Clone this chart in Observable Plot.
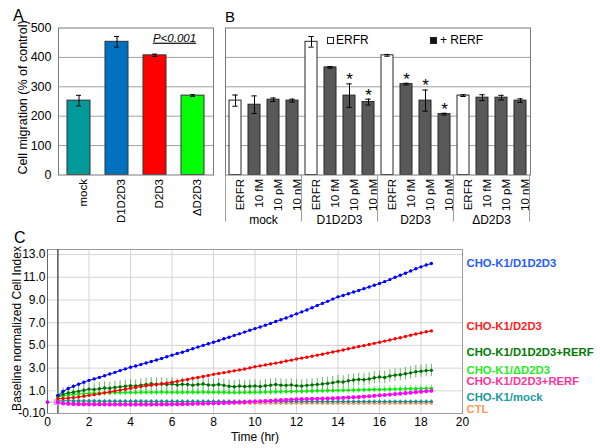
<!DOCTYPE html>
<html><head><meta charset="utf-8">
<script src="https://cdn.jsdelivr.net/npm/d3@7"></script>
<script src="https://cdn.jsdelivr.net/npm/@observablehq/plot@0.6"></script>
<style>
body{margin:0;background:#fff;}
#root{position:relative;width:600px;height:448px;overflow:hidden;font-family:"Liberation Sans",Arial,sans-serif;color:#000;}
.pane{position:absolute;}
.pane svg{overflow:visible;}
.letter{position:absolute;line-height:1;}
.leg{position:absolute;font-size:12px;line-height:12px;white-space:nowrap;}
.sq{position:absolute;width:5px;height:5px;border:1px solid #222;}
</style></head><body>
<div id="root">
  <div class="pane" id="pA" style="left:0;top:0"></div>
  <div class="pane" id="pB" style="left:215px;top:0"></div>
  <div class="pane" id="pC" style="left:0;top:230px"></div>
  <div class="letter" style="left:13px;top:8px;font-size:16px">A</div>
  <div class="letter" style="left:225px;top:9px;font-size:15px">B</div>
  <div class="letter" style="left:14px;top:230px;font-size:16px">C</div>
  <div class="sq" style="left:327px;top:37px;background:#fff"></div>
  <div class="leg" style="left:336px;top:34px">ERFR</div>
  <div class="sq" style="left:430px;top:37px;background:#111"></div>
  <div class="leg" style="left:440px;top:34px">+ RERF</div>
</div>
<script>
// ---------- Panel A data ----------
const groupsA = ["mock", "D1D2D3", "D2D3", "ΔD2D3"];
const valuesA = [253, 453, 407, 270];
const errorsA = [18, 18, 4, 3];
const colorsA = ["#009a9a", "#0070c0", "#ff0000", "#00ff00"];
const ticksA = [0, 100, 200, 300, 400, 500];

// ---------- Panel B data ----------
const groupsB = ["mock", "D1D2D3", "D2D3", "ΔD2D3"];
const treatmentsB = ["ERFR", "10 fM", "10 pM", "10 nM"];
const valuesB = [[253, 239, 256, 253], [453, 366, 270, 248], [407, 309, 253, 207], [270, 263, 263, 253]];
const errorsB = [[19, 30, 6, 5], [18, 3, 40, 10], [3, 3, 36, 3], [3, 10, 8, 6]];
const signifB = [[0, 0, 0, 0], [0, 0, 1, 1], [0, 1, 1, 1], [0, 0, 0, 0]];

// ---------- Panel C data ----------
const timeC = [0.5,0.75,1,1.25,1.5,1.75,2,2.25, 2.5,2.75,3,3.25,3.5,3.75,4,4.25, 4.5,4.75,5,5.25,5.5,5.75,6,6.25,
  6.5,6.75,7,7.25,7.5,7.75,8,8.25, 8.5,8.75,9,9.25,9.5,9.75,10,10.25, 10.5,10.75,11,11.25,11.5,11.75,12,12.25,
  12.5,12.75,13,13.25,13.5,13.75,14,14.25, 14.5,14.75,15,15.25,15.5,15.75,16,16.25, 16.5,16.75,17,17.25,17.5,17.75,18,18.25, 18.5];
const d1d2d3C = [0.60,0.95,1.20,1.40,1.58,1.75,1.92,2.05, 2.18,2.32,2.48,2.62,2.78,2.93,3.08,3.18, 3.32,3.45,3.58,3.72,3.85,4.00,4.14,4.28,
  4.40,4.55,4.70,4.85,5.00,5.14,5.28,5.42, 5.58,5.72,5.88,6.02,6.17,6.33,6.48,6.62, 6.78,6.94,7.10,7.26,7.42,7.60,7.78,7.95,
  8.12,8.32,8.52,8.70,8.88,9.08,9.28,9.40, 9.55,9.70,9.84,10.00,10.14,10.30,10.45,10.62, 10.80,11.00,11.18,11.36,11.55,11.75,11.92,12.08, 12.22];
const d2d3C = [0.30,0.33,0.36,0.40,0.45,0.52,0.60,0.66, 0.74,0.82,0.90,0.98,1.06,1.14,1.22,1.30, 1.37,1.44,1.50,1.56,1.62,1.68,1.75,1.83,
  1.92,2.00,2.10,2.18,2.26,2.35,2.45,2.52, 2.60,2.68,2.76,2.84,2.92,3.02,3.12,3.20, 3.28,3.36,3.44,3.52,3.62,3.70,3.80,3.88,
  3.96,4.05,4.14,4.22,4.32,4.42,4.50,4.60, 4.70,4.80,4.90,4.98,5.08,5.18,5.28,5.38, 5.48,5.58,5.68,5.78,5.90,6.00,6.10,6.20, 6.28];
const d1d2d3RerfC = [0.55,0.70,0.80,0.88,0.95,1.05,1.15,1.12, 1.18,1.25,1.22,1.30,1.35,1.40,1.45,1.42, 1.50,1.55,1.62,1.58,1.60,1.55,1.60,1.52,
  1.58,1.55,1.50,1.56,1.60,1.52,1.50,1.55, 1.48,1.40,1.36,1.42,1.38,1.40,1.42,1.38, 1.45,1.50,1.55,1.50,1.48,1.52,1.45,1.42,
  1.48,1.52,1.55,1.60,1.65,1.72,1.80,1.78, 1.88,1.95,2.00,1.98,2.05,2.15,2.22,2.18, 2.30,2.38,2.42,2.50,2.58,2.68,2.72,2.78, 2.80];
const dD2d3C = [0.45,0.55,0.62,0.68,0.72,0.75,0.78,0.80, 0.80,0.82,0.82,0.84,0.84,0.85,0.86,0.86, 0.87,0.88,0.88,0.88,0.89,0.88,0.88,0.87,
  0.88,0.88,0.88,0.88,0.89,0.88,0.88,0.88, 0.87,0.86,0.86,0.86,0.87,0.87,0.88,0.88, 0.89,0.90,0.91,0.92,0.93,0.94,0.95,0.96,
  0.97,0.98,1.00,1.01,1.02,1.03,1.04,1.05, 1.06,1.07,1.08,1.09,1.10,1.11,1.12,1.13, 1.14,1.15,1.16,1.17,1.18,1.19,1.20,1.21, 1.22];
const d2d3RerfC = [0.00,-0.12,-0.15,-0.17,-0.18,-0.19,-0.19,-0.20, -0.20,-0.20,-0.21,-0.21,-0.21,-0.21,-0.21,-0.21, -0.21,-0.21,-0.21,-0.20,-0.20,-0.20,-0.19,-0.19,
  -0.18,-0.17,-0.15,-0.14,-0.13,-0.12,-0.10,-0.09, -0.07,-0.05,-0.03,-0.01,0.01,0.03,0.05,0.07, 0.10,0.12,0.15,0.17,0.20,0.22,0.25,0.26,
  0.27,0.28,0.30,0.31,0.32,0.34,0.36,0.38, 0.41,0.43,0.45,0.49,0.52,0.56,0.60,0.63, 0.67,0.71,0.75,0.79,0.83,0.88,0.92,0.96, 1.00];
const mockC = [0.10,0.12,0.12,0.11,0.11,0.10,0.10,0.10, 0.09,0.09,0.09,0.09,0.08,0.08,0.08,0.08, 0.08,0.07,0.07,0.07,0.07,0.07,0.07,0.06,
  0.06,0.06,0.06,0.06,0.06,0.06,0.06,0.06, 0.06,0.06,0.06,0.05,0.05,0.05,0.05,0.05, 0.05,0.05,0.05,0.05,0.05,0.05,0.05,0.05,
  0.05,0.05,0.05,0.05,0.05,0.05,0.05,0.05, 0.05,0.05,0.05,0.05,0.05,0.05,0.05,0.05, 0.05,0.05,0.05,0.05,0.05,0.05,0.05,0.05, 0.05];
const ctlC = [-0.08,-0.09,-0.09,-0.10,-0.10,-0.10,-0.10,-0.10, -0.10,-0.10,-0.10,-0.10,-0.10,-0.10,-0.10,-0.10, -0.10,-0.10,-0.10,-0.10,-0.10,-0.10,-0.10,-0.10,
  -0.10,-0.10,-0.10,-0.10,-0.10,-0.10,-0.10,-0.10, -0.10,-0.10,-0.10,-0.10,-0.10,-0.10,-0.10,-0.10, -0.10,-0.10,-0.10,-0.10,-0.10,-0.10,-0.10,-0.10,
  -0.10,-0.10,-0.10,-0.10,-0.10,-0.10,-0.10,-0.10, -0.10,-0.10,-0.10,-0.10,-0.10,-0.10,-0.10,-0.10, -0.10,-0.10,-0.10,-0.10,-0.10,-0.10,-0.10,-0.10, -0.10];
const seriesNamesC = ["CHO-K1/D1D2D3", "CHO-K1/D2D3", "CHO-K1/D1D2D3+RERF", "CHO-K1/ΔD2D3", "CHO-K1/D2D3+RERF", "CHO-K1/mock", "CTL"];
const seriesValuesC = [d1d2d3C, d2d3C, d1d2d3RerfC, dD2d3C, d2d3RerfC, mockC, ctlC];
const errorsC = [0.08, 0.06, 0.55, 0.30, 0.10, 0.15, 0.12];
const baselineT = [0, 0.45];
const baselineV = [0, 0];
const ticksYC = [-1, 1, 3, 5, 7, 9, 11, 13];
const tickLabelsYC = ["-0.10", "1.0", "3.0", "5.0", "7.0", "9.0", "11.0", "13.0"];
const ticksXC = [0, 2, 4, 6, 8, 10, 12, 14, 16, 18, 20];

// styles
const FONT = '"Liberation Sans", Arial, sans-serif';
const pointColorsC = ["#0000ff", "#ff0000", "#007000", "#00ee00", "#ff00ff", "#1a8c8c", "#ff9966"];
const errColorsC = ["#4040ff", "#ff5050", "#5aaa5a", "#55ff55", "#ff66ff", "#308080", "#555555"];
const labelColorsC = ["#1f5cff", "#ff1a1a", "#007a00", "#22ee22", "#ff3399", "#1a9a9a", "#ff9955"];
const labelYC = [12.24, 6.67, 4.37, 2.78, 1.81, 0.42, -0.6];
const drawOrderC = [6, 5, 3, 4, 2, 1, 0];

// ---------- Panel A ----------
const dataA = groupsA.map((g, i) => ({g, v: valuesA[i], e: errorsA[i], c: colorsA[i]}));
const plotA = Plot.plot({
  width: 220, height: 225, marginLeft: 58, marginRight: 7, marginTop: 27.5, marginBottom: 50.5,
  style: {fontFamily: FONT, background: "transparent", overflow: "visible", color: "#000"},
  x: {domain: groupsA, paddingInner: 0.385, paddingOuter: 0.19},
  y: {domain: [0, 500]},
  marks: [
    Plot.gridY([100, 200, 300, 400], {stroke: "#a0a0a0", strokeOpacity: 1}),
    Plot.barY(dataA, {x: "g", y: "v", fill: "c", stroke: "#333", strokeWidth: 1}),
    Plot.ruleX(dataA, {x: "g", y1: d => d.v - d.e, y2: d => d.v + d.e, stroke: "#000"}),
    Plot.tickY(dataA, {x: "g", y: d => d.v + d.e, insetLeft: 9, insetRight: 9, stroke: "#000"}),
    Plot.tickY(dataA, {x: "g", y: d => d.v - d.e, insetLeft: 9, insetRight: 9, stroke: "#000"}),
    Plot.frame({stroke: "#7a7a7a"}),
    Plot.axisY({ticks: ticksA, tickSize: 0, tickPadding: 7, fontSize: 12.5, label: null}),
    Plot.axisX({rotate: -90, textAnchor: "end", tickSize: 0, tickPadding: 4, fontSize: 11.5, label: null}),
    Plot.text(["Cell migration (% of control)"], {frameAnchor: "left", textAnchor: "middle", rotate: -90, dx: -36, dy: -4, fontSize: 12.5}),
    Plot.text([{g: "D2D3", v: 466}], {x: "g", y: "v", dx: 19.5, text: () => "P<0.001", fontStyle: "italic", fontSize: 11.5})
  ]
});
d3.select(plotA).selectAll("text").filter(function() { return this.textContent === "P<0.001"; })
  .style("text-decoration", "underline");
document.getElementById("pA").appendChild(plotA);

// ---------- Panel B ----------
const keyB = (g, t) => g + "|" + t;
const dataB = [];
groupsB.forEach((g, gi) => treatmentsB.forEach((t, ti) => dataB.push({
  k: keyB(g, t), g, t, v: valuesB[gi][ti], e: errorsB[gi][ti], s: signifB[gi][ti],
  c: ti === 0 ? "#ffffff" : "#595959"
})));
const plotB = Plot.plot({
  width: 330, height: 225, marginLeft: 10, marginRight: 15, marginTop: 27.5, marginBottom: 50.5,
  style: {fontFamily: FONT, background: "transparent", overflow: "visible", color: "#000"},
  x: {domain: dataB.map(d => d.k), paddingInner: 0.39, paddingOuter: 0.2},
  y: {domain: [0, 500], axis: null},
  marks: [
    Plot.gridY([100, 200, 300, 400], {stroke: "#a0a0a0", strokeOpacity: 1}),
    Plot.barY(dataB, {x: "k", y: "v", fill: "c", stroke: "#262626", strokeWidth: 1}),
    Plot.ruleX(dataB, {x: "k", y1: d => d.v - d.e, y2: d => d.v + d.e, stroke: "#000"}),
    Plot.tickY(dataB, {x: "k", y: d => d.v + d.e, insetLeft: 3.3, insetRight: 3.3, stroke: "#000"}),
    Plot.tickY(dataB, {x: "k", y: d => d.v - d.e, insetLeft: 3.3, insetRight: 3.3, stroke: "#000"}),
    Plot.text(dataB.filter(d => d.s), {x: "k", y: d => d.v + d.e, text: () => "*", dy: -4, fontSize: 17}),
    Plot.frame({stroke: "#7a7a7a"}),
    Plot.axisX({rotate: -90, textAnchor: "end", tickSize: 0, tickPadding: 4, fontSize: 11.5, label: null,
      tickFormat: k => k.split("|")[1]})
  ]
});
{
  const sx = plotB.scale("x"), sy = plotB.scale("y");
  const gap = sx.step - sx.bandwidth;
  const yb = sy.apply(0);
  const svg = d3.select(plotB);
  const gsep = svg.append("g");
  const bounds = groupsB.map(g => sx.apply(keyB(g, treatmentsB[0])) - gap / 2);
  bounds.push(sx.apply(keyB(groupsB[3], treatmentsB[3])) + sx.bandwidth + gap / 2);
  bounds.forEach(x => gsep.append("line").attr("x1", x).attr("x2", x).attr("y1", yb).attr("y2", yb + 47)
    .attr("stroke", "#a0a0a0"));
  groupsB.forEach((g, gi) => {
    const cx = (bounds[gi] + bounds[gi + 1]) / 2;
    gsep.append("text").attr("x", cx).attr("y", yb + 46).attr("text-anchor", "middle")
      .attr("dominant-baseline", "middle").attr("font-size", 12).attr("font-family", FONT).text(g);
  });
}
document.getElementById("pB").appendChild(plotB);

// ---------- Panel C ----------
const seriesC = seriesNamesC.map((name, si) => timeC.map((t, i) => ({t, v: seriesValuesC[si][i], e: errorsC[si]})));
const marksC = [
  Plot.gridY([1, 3, 5, 7, 9, 11, 13], {stroke: "#d4d4d4", strokeOpacity: 1}),
  Plot.gridX([2, 4, 6, 8, 10, 12, 14, 16, 18], {stroke: "#d4d4d4", strokeOpacity: 1}),
  Plot.frame({stroke: "#9a9a9a"}),
  Plot.ruleX([0], {stroke: "#666"}),
  Plot.ruleX([0.5], {stroke: "#555", strokeWidth: 1.5}),
  Plot.line(baselineT.map((t, i) => ({t, v: baselineV[i]})), {x: "t", y: "v", stroke: "#cc66ff", strokeWidth: 0.8}),
  Plot.dot([{t: baselineT[0], v: baselineV[0]}], {x: "t", y: "v", r: 1.8, fill: "#cc00ff"}),
  Plot.dot([{t: baselineT[1], v: baselineV[1]}], {x: "t", y: "v", r: 2.5, symbol: "square", stroke: "#cc99ff", fill: "none"})
];
drawOrderC.forEach(si => {
  const data = seriesC[si];
  marksC.push(
    Plot.ruleX(data, {x: "t", y1: d => d.v - d.e, y2: d => d.v + d.e, stroke: errColorsC[si], strokeWidth: 0.9}),
    Plot.line(data, {x: "t", y: "v", stroke: pointColorsC[si], strokeWidth: 1}),
    Plot.dot(data, {x: "t", y: "v", r: si === 4 ? 2.1 : 1.7, fill: pointColorsC[si]})
  );
});
seriesNamesC.forEach((name, si) => {
  marksC.push(Plot.text([name], {frameAnchor: "right", y: () => labelYC[si], dx: 4, textAnchor: "start",
    fill: labelColorsC[si], fontWeight: "bold", fontSize: 11.3}));
});
marksC.push(
  Plot.axisY({ticks: ticksYC, tickFormat: d => tickLabelsYC[ticksYC.indexOf(d)], tickSize: 0, tickPadding: 2, fontSize: 12, label: null}),
  Plot.axisX({ticks: ticksXC, tickSize: 0, tickPadding: 4, fontSize: 12, label: null}),
  Plot.text(["Time (hr)"], {frameAnchor: "bottom", dy: 27, fontSize: 12}),
  Plot.text(["Baseline normalized Cell Index"], {frameAnchor: "left", textAnchor: "middle", rotate: -90, dx: -30.5, dy: -3, fontSize: 12})
);
const plotC = Plot.plot({
  width: 600, height: 218, marginLeft: 47, marginRight: 138, marginTop: 19, marginBottom: 35,
  style: {fontFamily: FONT, background: "transparent", overflow: "visible", color: "#000"},
  x: {domain: [0, 20]},
  y: {domain: [-1, 13.45]},
  marks: marksC
});
document.getElementById("pC").appendChild(plotC);
</script>
</body></html>
